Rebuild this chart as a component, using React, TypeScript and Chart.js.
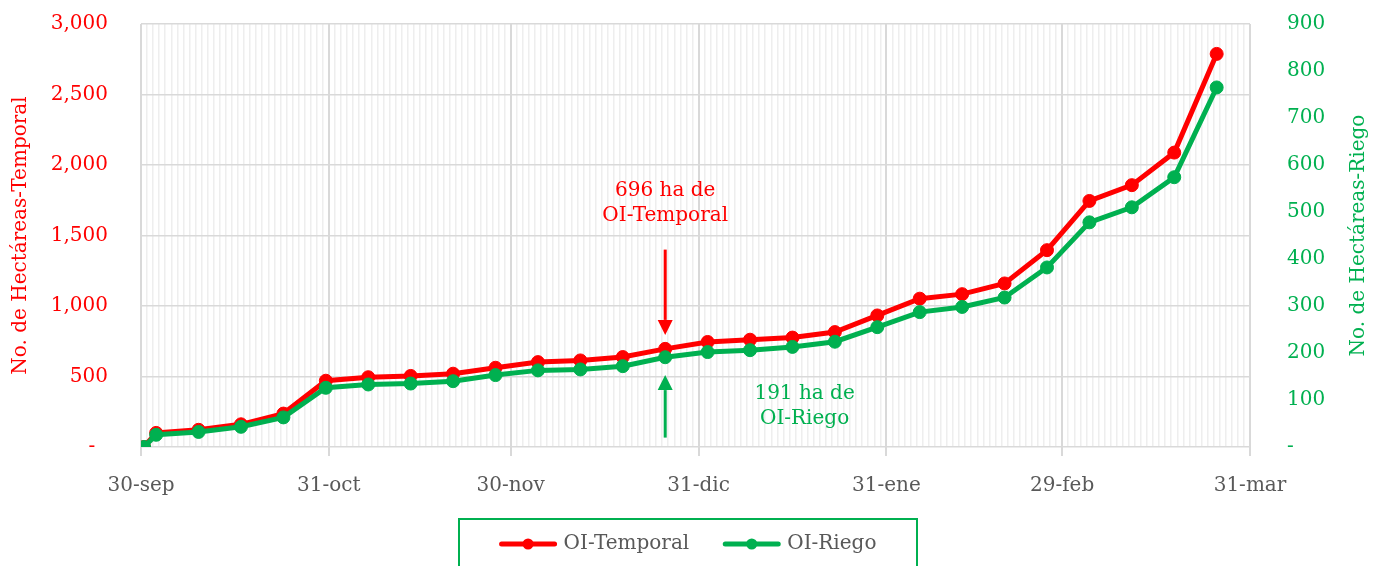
import React, { useEffect, useRef } from 'react';
import { Chart, registerables } from 'chart.js';

Chart.register(...registerables);

const FONT = '"DejaVu Serif", serif';
const RED = '#FF0000';
const GREEN = '#00B050';
const TEXT_GREY = '#595959';
const MAJOR_GRID = '#d9d9d9';
const MINOR_GRID = '#eeeeee';
const CLEAR = 'rgba(0,0,0,0)';

// Days after 30-sep for every observation
const pointDays = [0, 2, 9, 16, 23, 30, 37, 44, 51, 58, 65, 72, 79, 86, 93, 100, 107, 114, 121, 128, 135, 142, 149, 156, 163, 170, 177];
const temporalHa = [0, 100, 122, 161, 237, 470, 495, 504, 520, 562, 602, 614, 638, 696, 745, 761, 776, 815, 933, 1052, 1084, 1160, 1396, 1745, 1857, 2088, 2788];
const riegoHa = [0, 26, 32, 43, 63, 126, 133, 135, 140, 153, 163, 165, 172, 191, 202, 206, 213, 224, 255, 287, 298, 318, 382, 478, 510, 574, 765];

// Month-end tick days (after 30-sep) and their labels
const monthTickDays = [0, 31, 61, 92, 123, 152, 183];
const monthTickLabels = ['30-sep', '31-oct', '30-nov', '31-dic', '31-ene', '29-feb', '31-mar'];

const leftAxisMax = 3000;
const leftAxisStep = 500;
const rightAxisMax = 900;
const rightAxisStep = 100;

const seriesLabels = ['OI-Temporal', 'OI-Riego'];
const leftTitle = 'No. de Hectáreas-Temporal';
const rightTitle = 'No. de Hectáreas-Riego';

// Callouts
const calloutDay = 86;
const temporalCallout = ['696 ha de', 'OI-Temporal'];
const riegoCallout = ['191 ha de', 'OI-Riego'];

const fmt = (v: number) => (v === 0 ? '-' : v.toLocaleString('en-US'));

function drawArrow(ctx: CanvasRenderingContext2D, x: number, yFrom: number, yTo: number, color: string) {
  const dir = Math.sign(yTo - yFrom);
  const head = 15;
  const hw = 7.5;
  ctx.strokeStyle = color;
  ctx.fillStyle = color;
  ctx.lineWidth = 3;
  ctx.beginPath();
  ctx.moveTo(x, yFrom);
  ctx.lineTo(x, yTo - dir * head);
  ctx.stroke();
  ctx.beginPath();
  ctx.moveTo(x, yTo);
  ctx.lineTo(x - hw, yTo - dir * head);
  ctx.lineTo(x + hw, yTo - dir * head);
  ctx.closePath();
  ctx.fill();
}

const overlayPlugin = {
  id: 'overlay',
  afterDatasetsDraw(chart: any) {
    const { ctx, scales } = chart;
    const x = scales.x;
    const y = scales.y;
    const y1 = scales.y1;
    ctx.save();
    const cx = x.getPixelForValue(calloutDay + 0.5);
    drawArrow(ctx, cx, y.getPixelForValue(1400), y.getPixelForValue(795), RED);
    drawArrow(ctx, cx, y1.getPixelForValue(20), y1.getPixelForValue(153), GREEN);

    ctx.font = `20px ${FONT}`;
    ctx.textAlign = 'center';
    ctx.textBaseline = 'middle';
    ctx.fillStyle = RED;
    ctx.fillText(temporalCallout[0], cx, y.getPixelForValue(1815));
    ctx.fillText(temporalCallout[1], cx, y.getPixelForValue(1637));
    const gx = x.getPixelForValue(109.5);
    ctx.fillStyle = GREEN;
    ctx.fillText(riegoCallout[0], gx, y1.getPixelForValue(114));
    ctx.fillText(riegoCallout[1], gx, y1.getPixelForValue(61));

    // right axis title (reads bottom to top)
    const ca = chart.chartArea;
    ctx.translate(chart.width - 17, (ca.top + ca.bottom) / 2);
    ctx.rotate(-Math.PI / 2);
    ctx.fillText(rightTitle, 0, 0);
    ctx.restore();
  },
  afterDraw(chart: any) {
    const { ctx } = chart;
    const datasets = chart.data.datasets;
    ctx.save();
    ctx.font = `20px ${FONT}`;
    const sample = 57;
    const gapText = 7;
    const gapItem = 34;
    const widths = datasets.map((d: any) => ctx.measureText(d.label).width);
    let total = 0;
    widths.forEach((w: number, i: number) => {
      total += sample + gapText + w + (i > 0 ? gapItem : 0);
    });
    const mid = chart.width / 2;
    const boxTop = chart.scales.x.bottom + 1;
    ctx.strokeStyle = GREEN;
    ctx.lineWidth = 2;
    ctx.strokeRect(mid - 229, boxTop, 458, 80);
    const ly = boxTop + 25;
    let lx = mid - total / 2;
    datasets.forEach((d: any, i: number) => {
      ctx.strokeStyle = d.borderColor;
      ctx.fillStyle = d.borderColor;
      ctx.lineWidth = 5;
      ctx.lineCap = 'round';
      ctx.beginPath();
      ctx.moveTo(lx + 2, ly);
      ctx.lineTo(lx + sample - 2, ly);
      ctx.stroke();
      ctx.beginPath();
      ctx.arc(lx + sample / 2, ly, 5.5, 0, Math.PI * 2);
      ctx.fill();
      ctx.fillStyle = TEXT_GREY;
      ctx.textAlign = 'left';
      ctx.textBaseline = 'middle';
      ctx.fillText(d.label, lx + sample + gapText, ly);
      lx += sample + gapText + widths[i] + gapItem;
    });
    ctx.restore();
  },
};

export default function App() {
  const canvasRef = useRef<HTMLCanvasElement | null>(null);

  useEffect(() => {
    if (!canvasRef.current) return;
    const isMajor = (v: number) => monthTickDays.includes(v);
    const chart = new Chart(canvasRef.current, {
      type: 'line',
      data: {
        datasets: [
          {
            label: seriesLabels[0],
            data: pointDays.map((d, i) => ({ x: d + 0.5, y: temporalHa[i] })),
            borderColor: RED,
            backgroundColor: RED,
            borderWidth: 5,
            pointRadius: 6.5,
            pointBorderWidth: 1,
            pointBackgroundColor: RED,
            pointBorderColor: RED,
            yAxisID: 'y',
            order: 1,
          },
          {
            label: seriesLabels[1],
            data: pointDays.map((d, i) => ({ x: d + 0.5, y: riegoHa[i] })),
            borderColor: GREEN,
            backgroundColor: GREEN,
            borderWidth: 5,
            pointRadius: 6.5,
            pointBorderWidth: 1,
            pointBackgroundColor: GREEN,
            pointBorderColor: GREEN,
            yAxisID: 'y1',
            order: 0,
          },
        ],
      },
      options: {
        animation: false,
        responsive: false,
        devicePixelRatio: 1,
        layout: { padding: { top: 24, bottom: 48, left: 0, right: 0 } },
        plugins: {
          legend: { display: false },
          tooltip: { enabled: false },
        },
        scales: {
          x: {
            type: 'linear',
            min: 0,
            max: 183,
            afterBuildTicks: (axis: any) => {
              const t = [];
              for (let d = 0; d <= 183; d++) t.push({ value: d });
              axis.ticks = t;
            },
            afterFit: (scale: any) => {
              scale.height = 71;
            },
            ticks: {
              autoSkip: false,
              maxRotation: 0,
              minRotation: 0,
              padding: 18,
              color: TEXT_GREY,
              font: { family: FONT, size: 20 },
              callback: (v: any) => {
                const i = monthTickDays.indexOf(Number(v));
                return i >= 0 ? monthTickLabels[i] : '';
              },
            },
            grid: {
              color: (c: any) => (c.tick && isMajor(c.tick.value) ? MAJOR_GRID : MINOR_GRID),
              lineWidth: (c: any) => (c.tick && isMajor(c.tick.value) ? 2 : 1.5),
              tickColor: (c: any) => (c.tick && isMajor(c.tick.value) ? MAJOR_GRID : CLEAR),
              tickLength: 9,
              drawTicks: true,
            },
            border: { display: false },
          },
          y: {
            position: 'left',
            min: 0,
            max: leftAxisMax,
            afterFit: (scale: any) => {
              scale.width = 141;
            },
            ticks: {
              stepSize: leftAxisStep,
              padding: 0,
              color: RED,
              font: { family: FONT, size: 20 },
              callback: (v: any) => (Number(v) === 0 ? '-  ' : fmt(Number(v))),
            },
            grid: { color: MAJOR_GRID, lineWidth: 1.5, drawTicks: true, tickLength: 33, tickColor: CLEAR },
            border: { display: false },
            title: {
              display: true,
              text: leftTitle,
              color: RED,
              font: { family: FONT, size: 20 },
              padding: { top: 9, bottom: 0 },
            },
          },
          y1: {
            position: 'right',
            min: 0,
            max: rightAxisMax,
            afterFit: (scale: any) => {
              scale.width = 126;
            },
            ticks: {
              stepSize: rightAxisStep,
              padding: 0,
              color: GREEN,
              font: { family: FONT, size: 20 },
              callback: (v: any) => fmt(Number(v)),
            },
            grid: { display: true, drawOnChartArea: false, drawTicks: true, tickLength: 37, tickColor: CLEAR, color: CLEAR },
            border: { display: false },
          },
        },
      },
      plugins: [overlayPlugin],
    } as any);
    return () => chart.destroy();
  }, []);

  return (
    <div style={{ position: 'absolute', left: 0, top: 0, width: 1376, height: 566, background: '#fff' }}>
      <canvas ref={canvasRef} width={1376} height={566} style={{ width: 1376, height: 566, display: 'block' }} />
    </div>
  );
}
